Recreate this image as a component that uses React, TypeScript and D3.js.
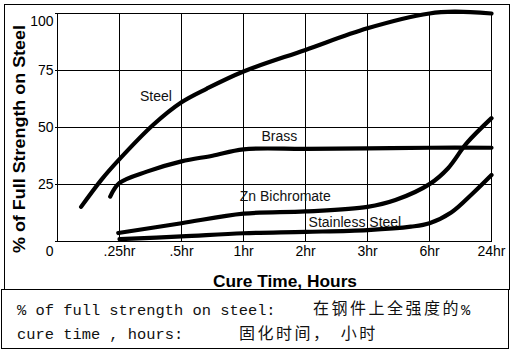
import React from "react";
import * as d3 from "d3";

// x positions are category indices (0 = origin, 1 = .25hr ... 7 = 24hr)
const xTickLabels = [".25hr", ".5hr", "1hr", "2hr", "3hr", "6hr", "24hr"];
const yTickValues = [25, 50, 75, 100];

const steelX = [0.38, 0.71, 1, 1.54, 2, 2.41, 3, 4, 5, 6, 6.4, 7];
const steelY = [15, 27, 36, 51, 61, 67, 74.5, 84, 93.5, 100, 100.8, 100];

const brassX = [0.85, 1, 1.44, 2, 2.5, 3, 4, 5, 6, 7];
const brassY = [19.5, 25.5, 30.5, 35, 37.5, 40.3, 40.5, 40.7, 41, 41];

const znX = [0.98, 2, 3, 4, 5, 5.45, 6, 6.3, 6.6, 7];
const znY = [3.5, 7.8, 12, 13, 15, 18, 25, 32, 43, 54];

const ssX = [1, 2, 3, 4, 5, 5.7, 6, 6.35, 6.7, 7];
const ssY = [0.8, 2, 3.4, 4, 4.8, 6.3, 7.8, 12.5, 21, 29];

const seriesLabels = ["Steel", "Brass", "Zn Bichromate", "Stainless Steel"];
const labelX = [1.33, 3.29, 2.94, 4.05];
const labelY = [61.5, 44, 17.6, 6.3];

const yTitle = "% of Full Strength on Steel";
const xTitle = "Cure Time, Hours";

const noteLatin = ["% of full strength on steel:", "cure time , hours:"];
const noteCJK = [
  [{ cell: 32, text: "在钢件上全强度的" }],
  [
    { cell: 24, text: "固化时间，" },
    { cell: 35, text: "小时" },
  ],
];
const noteTail = [{ line: 0, cell: 48, text: "%" }];

export default function App() {
  const W = 513;
  const H = 354;
  const x = d3.scaleLinear().domain([0, 7]).range([57.5, 491.5]);
  const y = d3.scaleLinear().domain([0, 100]).range([241, 13.5]);
  const line = d3
    .line<[number, number]>()
    .x((d) => x(d[0]))
    .y((d) => y(d[1]))
    .curve(d3.curveCatmullRom.alpha(0.5));

  const series = [
    [steelX, steelY],
    [brassX, brassY],
    [znX, znY],
    [ssX, ssY],
  ].map(([xs, ys]) => xs.map((v, i) => [v, ys[i]] as [number, number]));

  const sans = "'Liberation Sans', Arial, sans-serif";
  const mono = "'Liberation Mono', 'DejaVu Sans Mono', monospace";
  const cjk = "'Noto Sans CJK SC', sans-serif";
  const cellW = 9.25;
  const x0 = 17;
  const baselines = [314.5, 339];

  return (
    <svg
      width={W}
      height={H}
      style={{ position: "absolute", left: 0, top: 0, background: "#fff" }}
    >
      <rect x={0} y={0} width={W} height={H} fill="#fff" />
      {/* frames */}
      <rect x={4.5} y={4.5} width={505} height={285} fill="none" stroke="#000" strokeWidth={1} />
      <rect x={1.5} y={289.5} width={507} height={59} fill="none" stroke="#000" strokeWidth={1} />

      {/* grid */}
      <g stroke="#000" strokeWidth={1} shapeRendering="crispEdges">
        {d3.range(0, 8).map((i) => (
          <line key={"v" + i} x1={x(i)} x2={x(i)} y1={y(100)} y2={y(0)} />
        ))}
        {[0, ...yTickValues].map((v) => (
          <line key={"h" + v} x1={x(0) - 3} x2={x(7)} y1={y(v)} y2={y(v)} />
        ))}
      </g>

      {/* y tick labels */}
      <g fontFamily={sans} fontSize={14} fill="#000" textAnchor="end">
        {yTickValues.map((v) => (
          <text key={v} x={x(0) - 4} y={Math.max(y(v), y(100) + 7) + 5}>
            {v}
          </text>
        ))}
        <text x={x(0) - 4} y={256}>0</text>
      </g>

      {/* x tick labels */}
      <g fontFamily={sans} fontSize={14} fill="#000" textAnchor="middle">
        {xTickLabels.map((t, i) => (
          <text key={t} x={x(i + 1)} y={256}>
            {t}
          </text>
        ))}
      </g>

      {/* curves */}
      <g fill="none" stroke="#000" strokeWidth={4.2} strokeLinecap="round" strokeLinejoin="round">
        {series.map((s, i) => (
          <path key={i} d={line(s) || ""} />
        ))}
      </g>

      {/* series labels */}
      <g fontFamily={sans} fontSize={14} fill="#111">
        {seriesLabels.map((t, i) => (
          <text key={t} x={x(labelX[i])} y={y(labelY[i])}>
            {t}
          </text>
        ))}
      </g>

      {/* axis titles */}
      <text
        x={285}
        y={287}
        fontFamily={sans}
        fontSize={17}
        fontWeight="bold"
        textAnchor="middle"
        textLength={144}
        lengthAdjust="spacingAndGlyphs"
      >
        {xTitle}
      </text>
      <text
        transform={`translate(25,139) rotate(-90)`}
        fontFamily={sans}
        fontSize={17}
        fontWeight="bold"
        textAnchor="middle"
        textLength={228}
        lengthAdjust="spacingAndGlyphs"
      >
        {yTitle}
      </text>

      {/* note box */}
      {noteLatin.map((t, i) => (
        <text
          key={"l" + i}
          x={x0}
          y={baselines[i]}
          fontFamily={mono}
          fontSize={15.4}
          fill="#111"
          style={{ whiteSpace: "pre" }}
        >
          {t}
        </text>
      ))}
      {noteCJK.map((runs, li) =>
        runs.map((r, j) => (
          <text
            key={"c" + li + "-" + j}
            x={x0 + r.cell * cellW}
            y={baselines[li] - 0.5}
            fontFamily={cjk}
            fontSize={16}
            letterSpacing={2.5}
            fill="#111"
          >
            {r.text}
          </text>
        ))
      )}
      {noteTail.map((r, i) => (
        <text
          key={"t" + i}
          x={x0 + r.cell * cellW}
          y={baselines[r.line]}
          fontFamily={mono}
          fontSize={15.4}
          fill="#111"
        >
          {r.text}
        </text>
      ))}
    </svg>
  );
}
